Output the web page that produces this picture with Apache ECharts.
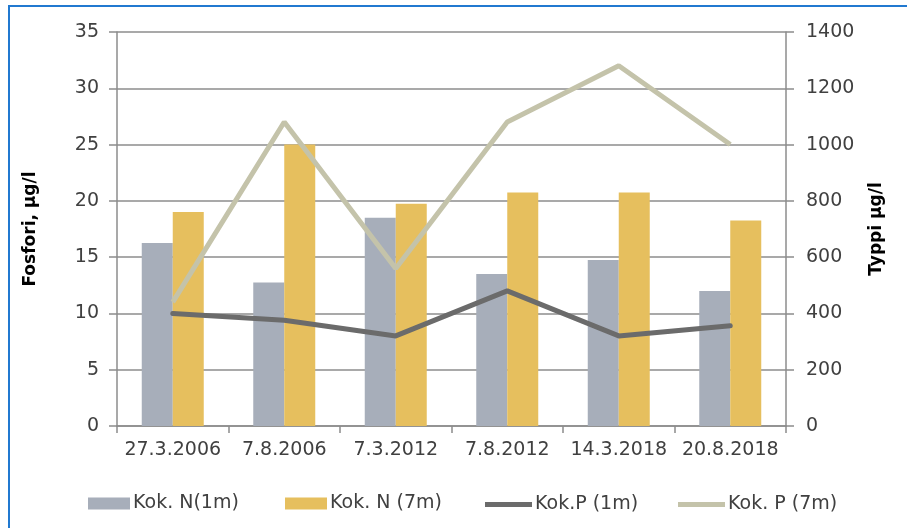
<!DOCTYPE html>
<html>
<head>
<meta charset="utf-8">
<script src="https://cdn.jsdelivr.net/npm/echarts@6/dist/echarts.min.js"></script>
<style>
  html, body { margin: 0; padding: 0; background: #fff; }
  #chart { width: 907px; height: 528px; }
</style>
</head>
<body>
<div id="chart"></div>
<script>
// Sampling dates
const categories = ['27.3.2006', '7.8.2006', '7.3.2012', '7.8.2012', '14.3.2018', '20.8.2018'];
// Total nitrogen, µg/l (right axis)
const nitrogen1m = [650, 510, 740, 540, 590, 480];
const nitrogen7m = [760, 1000, 790, 830, 830, 730];
// Total phosphorus, µg/l (left axis)
const phosphorus1m = [10, 9.4, 8, 12, 8, 8.9];
const phosphorus7m = [11, 27, 14, 27, 32, 25];
// Series names shown in the legend
const seriesNames = ['Kok. N(1m)', 'Kok. N (7m)', 'Kok.P (1m)', 'Kok. P (7m)'];

const FONT = 'DejaVu Sans';
const TXT = '#404040';
const GRID = '#8c8c8c';
const colors = ['#a7aeba', '#e6bf5e', '#6b6b6b', '#c4c3aa'];

const chart = echarts.init(document.getElementById('chart'), null, { renderer: 'canvas' });

function legendAt(name, left, isLine) {
  return {
    data: [name],
    left: left,
    top: isLine ? 490 : 489,
    icon: 'rect',
    itemWidth: isLine ? 47 : 42,
    itemHeight: isLine ? 5 : 12,
    itemGap: 0,
    textStyle: { fontFamily: FONT, fontSize: 19, color: TXT, padding: [0, 0, 0, -2] },
    selectedMode: false
  };
}

const option = {
  animation: false,
  textStyle: { fontFamily: FONT },
  color: colors,
  grid: { left: 117, right: 121, top: 32, bottom: 102, containLabel: false },
  legend: [
    legendAt(seriesNames[0], 83, false),
    legendAt(seriesNames[1], 280, false),
    legendAt(seriesNames[2], 480, true),
    legendAt(seriesNames[3], 673, true)
  ],
  xAxis: {
    type: 'category',
    data: categories,
    boundaryGap: true,
    axisLine: { show: true, lineStyle: { color: GRID, width: 1.5 } },
    axisTick: { show: true, length: 7, lineStyle: { color: GRID, width: 1.5 } },
    axisLabel: { color: TXT, fontSize: 19, fontFamily: FONT, margin: 15, interval: 0 }
  },
  yAxis: [
    {
      type: 'value',
      min: 0, max: 35, interval: 5,
      name: 'Fosfori, µg/l',
      nameLocation: 'middle',
      nameRotate: 90,
      nameGap: 78,
      nameTextStyle: { fontFamily: FONT, fontSize: 17, fontWeight: 'bold', color: '#000' },
      axisLine: { show: true, lineStyle: { color: GRID, width: 1.5 } },
      axisTick: { show: true, length: 8, lineStyle: { color: GRID, width: 1.5 } },
      axisLabel: { color: TXT, fontSize: 19, fontFamily: FONT, margin: 18 },
      splitLine: { show: true, lineStyle: { color: GRID, width: 1.5 } }
    },
    {
      type: 'value',
      min: 0, max: 1400, interval: 200,
      name: 'Typpi µg/l',
      nameLocation: 'middle',
      nameRotate: 90,
      nameGap: 82,
      nameTextStyle: { fontFamily: FONT, fontSize: 17, fontWeight: 'bold', color: '#000' },
      axisLine: { show: true, lineStyle: { color: GRID, width: 1.5 } },
      axisTick: { show: true, length: 8, lineStyle: { color: GRID, width: 1.5 } },
      axisLabel: { color: TXT, fontSize: 19, fontFamily: FONT, margin: 20, formatter: v => String(v) },
      splitLine: { show: false }
    }
  ],
  series: [
    {
      name: seriesNames[0], type: 'bar', yAxisIndex: 1, data: nitrogen1m,
      barWidth: 31, barGap: '0%', itemStyle: { color: colors[0] }
    },
    {
      name: seriesNames[1], type: 'bar', yAxisIndex: 1, data: nitrogen7m,
      barWidth: 31, barGap: '0%', itemStyle: { color: colors[1] }
    },
    {
      name: seriesNames[2], type: 'line', yAxisIndex: 0, data: phosphorus1m,
      symbol: 'none', lineStyle: { color: colors[2], width: 5, cap: 'round' },
      itemStyle: { color: colors[2] }, z: 4
    },
    {
      name: seriesNames[3], type: 'line', yAxisIndex: 0, data: phosphorus7m,
      symbol: 'none', lineStyle: { color: colors[3], width: 5 },
      itemStyle: { color: colors[3] }, z: 3
    }
  ],
  graphic: [
    { type: 'line', shape: { x1: 9, y1: 6, x2: 9, y2: 528 }, style: { stroke: '#2179d0', lineWidth: 2 } },
    { type: 'line', shape: { x1: 8, y1: 6, x2: 907, y2: 6 }, style: { stroke: '#2179d0', lineWidth: 2 } }
  ]
};

chart.setOption(option);
</script>
</body>
</html>
